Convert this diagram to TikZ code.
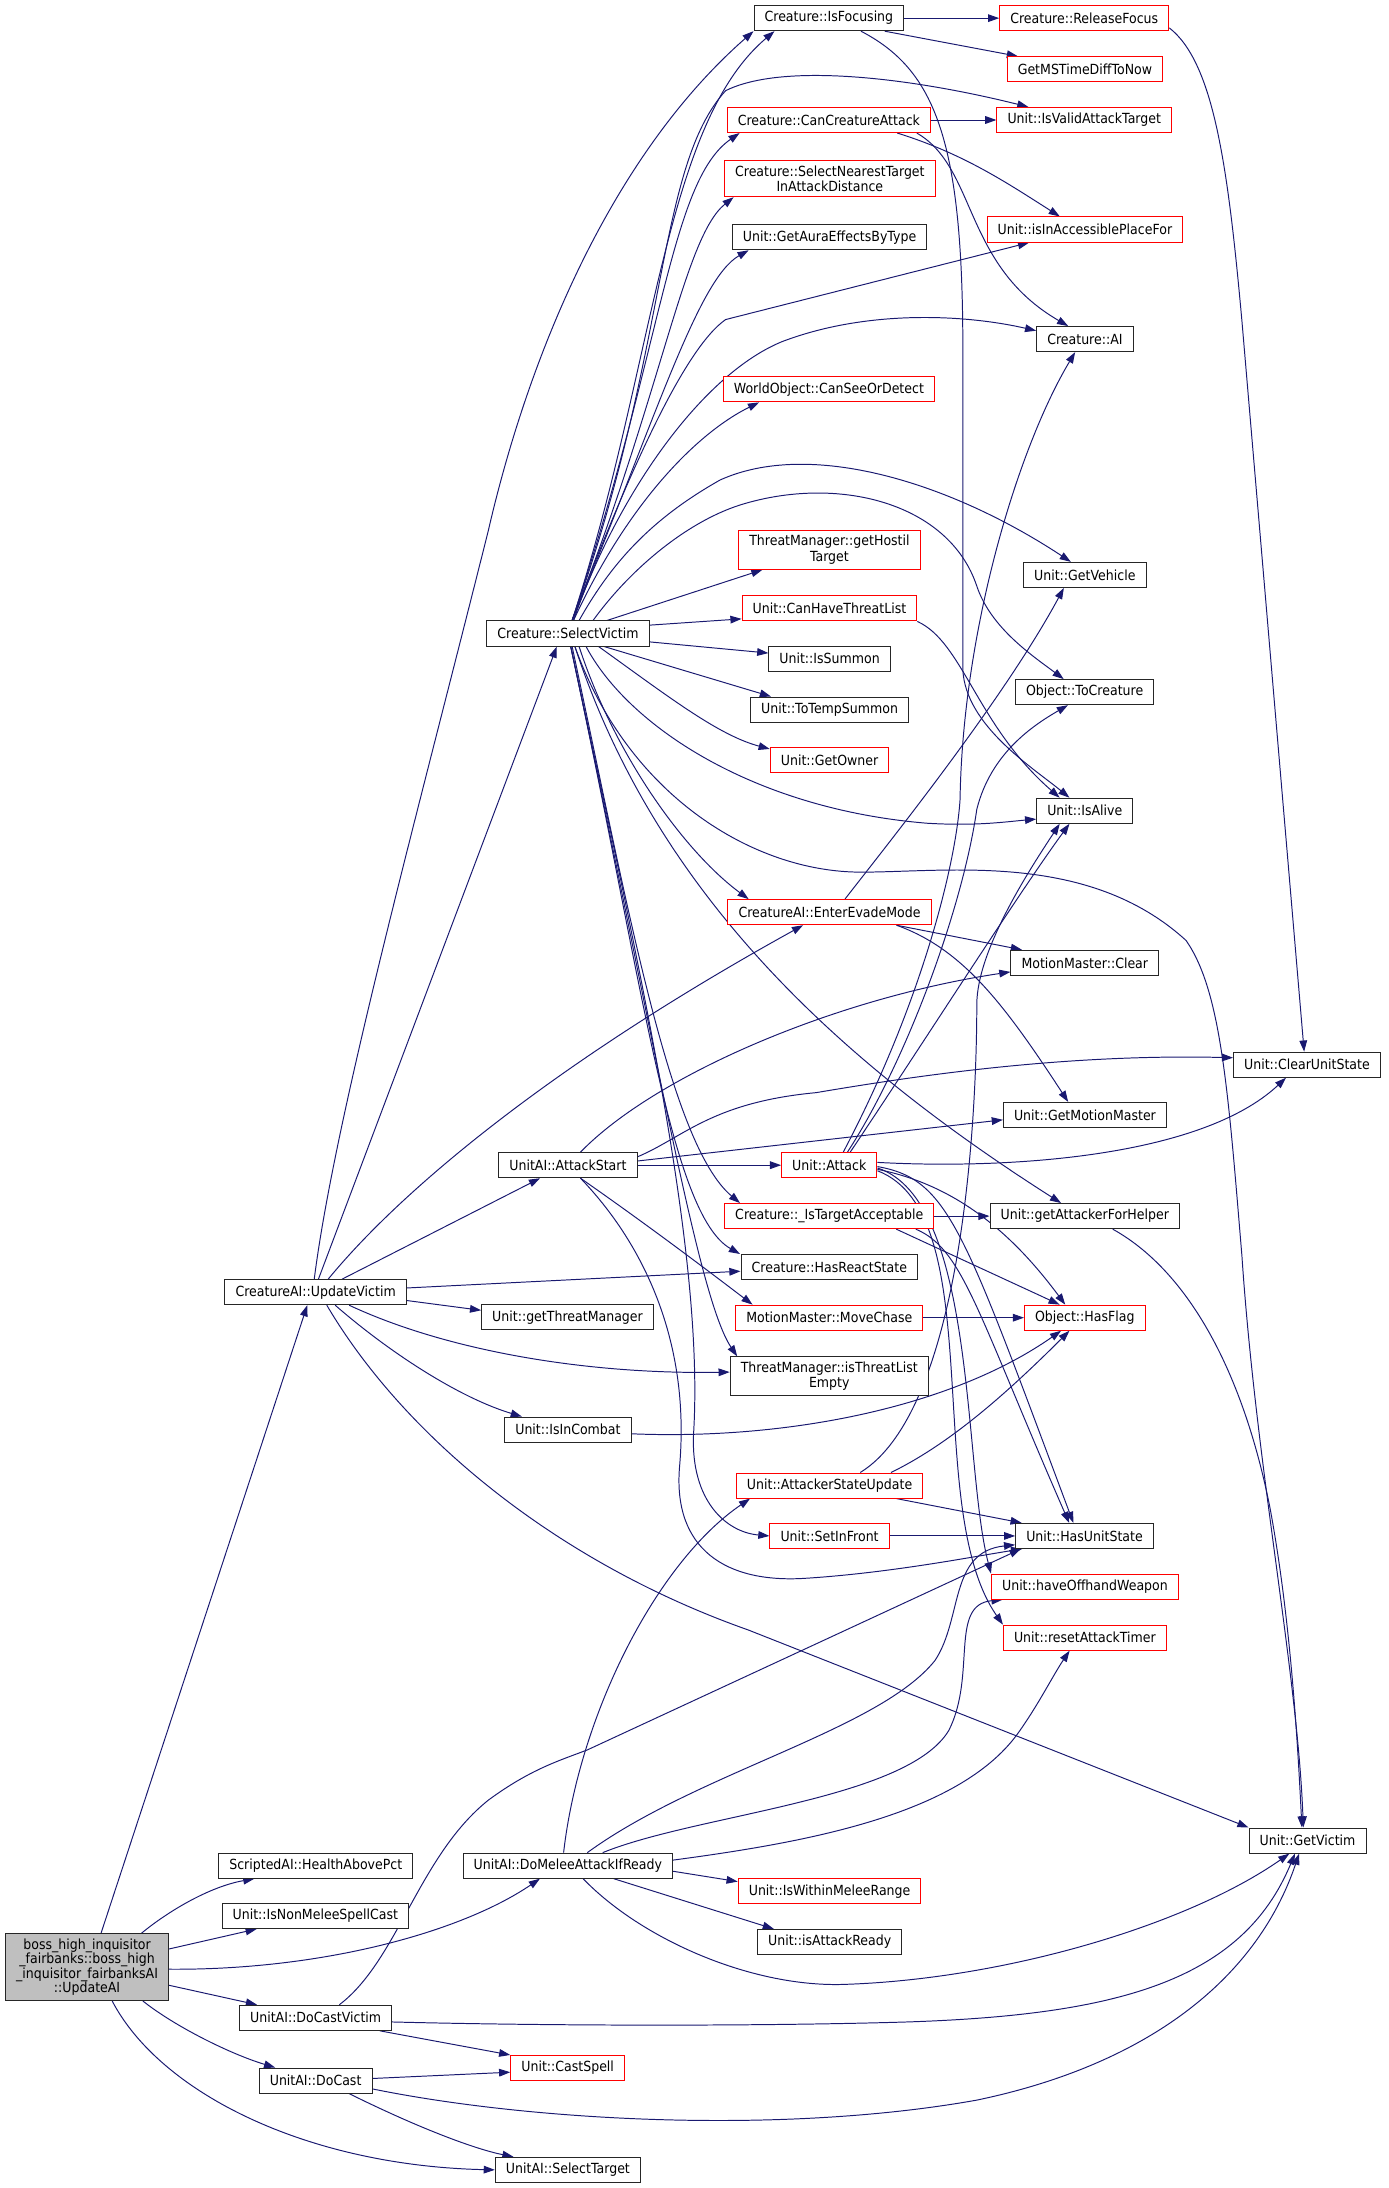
\documentclass[tikz,border=0pt]{standalone}
\usepackage{fontspec}
\newfontfamily\dotfont[FakeStretch=0.9]{DejaVu Sans}
\usetikzlibrary{arrows.meta,backgrounds}
\definecolor{edgeblue}{RGB}{25,25,112}
\definecolor{rootgray}{RGB}{191,191,191}

\begin{document}
\begin{tikzpicture}[x=1pt, y=-1pt,
    fn/.style={draw=black!85, line width=0.7pt, fill=white, font=\dotfont\fontsize{10}{11.2}\selectfont,
      inner xsep=7.6pt, inner ysep=3.5pt, minimum height=18pt, align=center},
    fnred/.style={fn, draw=red},
    fnroot/.style={fn, fill=rootgray, font=\dotfont\fontsize{10}{10.4}\selectfont},
    call/.style={draw=edgeblue, line width=0.7pt, -{Triangle[length=8pt,width=5.5pt]}}
  ]
  \useasboundingbox (0,0) rectangle (995,1568);

  % callees, column by column
  \node[fn]    (if)   at (594,13)    {Creature::IsFocusing};
  \node[fnred] (rf)   at (777,13)    {Creature::ReleaseFocus};
  \node[fnred] (gms)  at (777.5,49.7) {GetMSTimeDiffToNow};
  \node[fnred] (ivat) at (777,86)    {Unit::IsValidAttackTarget};
  \node[fnred] (cca)  at (594,86)    {Creature::CanCreatureAttack};
  \node[fnred] (snt)  at (594.7,128) {Creature::SelectNearestTarget\\InAttackDistance};
  \node[fn]    (gae)  at (594.5,170) {Unit::GetAuraEffectsByType};
  \node[fnred] (iap)  at (777.5,164.5) {Unit::isInAccessiblePlaceFor};
  \node[fn]    (cai)  at (777.5,243) {Creature::AI};
  \node[fnred] (csd)  at (594,279)   {WorldObject::CanSeeOrDetect};
  \node[fnred] (ght)  at (594.4,394) {ThreatManager::getHostil\\Target};
  \node[fn]    (gveh) at (777.4,412) {Unit::GetVehicle};
  \node[fnred] (cht)  at (594.4,436) {Unit::CanHaveThreatList};
  \node[fn]    (sv)   at (407,454)   {Creature::SelectVictim};
  \node[fn]    (iss)  at (594.5,472) {Unit::IsSummon};
  \node[fn]    (tc)   at (777.3,496) {Object::ToCreature};
  \node[fn]    (tts)  at (594.5,508.5) {Unit::ToTempSummon};
  \node[fnred] (go)   at (594.5,544.6) {Unit::GetOwner};
  \node[fn]    (ia)   at (777.4,581) {Unit::IsAlive};
  \node[fnred] (eem)  at (594.5,653.7) {CreatureAI::EnterEvadeMode};
  \node[fn]    (mmc)  at (777.4,690) {MotionMaster::Clear};
  \node[fn]    (cus)  at (936.6,763) {Unit::ClearUnitState};
  \node[fn]    (gmm)  at (777.5,799) {Unit::GetMotionMaster};
  \node[fn]    (as)   at (407,835)   {UnitAI::AttackStart};
  \node[fnred] (att)  at (594.3,835) {Unit::Attack};
  \node[fnred] (ita)  at (594.3,871.5) {Creature::\_IsTargetAcceptable};
  \node[fn]    (gah)  at (777.4,871.5) {Unit::getAttackerForHelper};
  \node[fn]    (hrs)  at (594.3,908) {Creature::HasReactState};
  \node[fn]    (uv)   at (226.2,926) {CreatureAI::UpdateVictim};
  \node[fn]    (gtm)  at (406.7,944) {Unit::getThreatManager};
  \node[fnred] (mc)   at (594.3,944.3) {MotionMaster::MoveChase};
  \node[fnred] (hf)   at (777.4,944.3) {Object::HasFlag};
  \node[fn]    (tle)  at (594.3,986.3) {ThreatManager::isThreatList\\Empty};
  \node[fn]    (iic)  at (407,1024.5) {Unit::IsInCombat};
  \node[fnred] (asu)  at (594.5,1064.6) {Unit::AttackerStateUpdate};
  \node[fnred] (sif)  at (594.5,1100.7) {Unit::SetInFront};
  \node[fn]    (hus)  at (777.2,1100.7) {Unit::HasUnitState};
  \node[fnred] (how)  at (777.5,1137) {Unit::haveOffhandWeapon};
  \node[fnred] (rat)  at (777.5,1173.6) {Unit::resetAttackTimer};
  \node[fn]    (gv)   at (937,1319)  {Unit::GetVictim};
  \node[fn]    (hap)  at (226.3,1337) {ScriptedAI::HealthAbovePct};
  \node[fn]    (dm)   at (406.9,1337) {UnitAI::DoMeleeAttackIfReady};
  \node[fnred] (iwmr) at (594.5,1355.4) {Unit::IsWithinMeleeRange};
  \node[fn]    (inm)  at (226,1373)  {Unit::IsNonMeleeSpellCast};
  \node[fn]    (iar)  at (594.6,1391.7) {Unit::isAttackReady};
  \node[fnroot] (boss) at (62.4,1409.7) {boss\_high\_inquisitor\\\_fairbanks::boss\_high\\\_inquisitor\_fairbanksAI\\::UpdateAI};
  \node[fn]    (dcv)  at (226.2,1446) {UnitAI::DoCastVictim};
  \node[fnred] (cs)   at (406.8,1482) {Unit::CastSpell};
  \node[fn]    (dc)   at (226.2,1491) {UnitAI::DoCast};
  \node[fn]    (st)   at (407,1555)  {UnitAI::SelectTarget};

  \begin{scope}[on background layer]
    % root
    \draw[call] ([xshift=10pt]boss.north) -- ([xshift=-6pt]uv.south);
    \draw[call] ([xshift=39pt]boss.north) .. controls (120,1370) and (150,1352) .. ([xshift=-44pt]hap.south);
    \draw[call] ([yshift=13pt]boss.east) -- ([xshift=-42pt]inm.south);
    \draw[call] ([yshift=-1.5pt]boss.east) .. controls (230,1412) and (330,1385) .. ([xshift=-20pt]dm.south);
    \draw[call] ([yshift=-13pt]boss.east) -- ([xshift=-42pt]dcv.north);
    \draw[call] ([xshift=40pt]boss.south) .. controls (125,1452) and (165,1472) .. ([xshift=-29pt]dc.north);
    \draw[call] ([xshift=18pt]boss.south) .. controls (115,1500) and (220,1552) .. (st.west);

    % UpdateVictim
    \draw[call] ([xshift=2pt]uv.north) -- ([xshift=-8pt]sv.south);
    \draw[call] ([xshift=-1pt]uv.north) .. controls (240,800) and (300,580) .. (350,380)
      .. controls (380,250) and (440,110) .. (if.south west);
    \draw[call] ([xshift=9pt]uv.north) .. controls (290,850) and (400,760) .. ([xshift=-19pt]eem.south);
    \draw[call] ([xshift=19pt]uv.north) -- ([xshift=-20pt]as.south);
    \draw[call] ([yshift=3pt]uv.east) -- ([yshift=-3pt]hrs.west);
    \draw[call] ([yshift=-6pt]uv.east) -- ([yshift=5pt]gtm.west);
    \draw[call] ([xshift=24pt]uv.south) .. controls (320,968) and (420,985) .. ([yshift=3pt]tle.west);
    \draw[call] ([xshift=14pt]uv.south) .. controls (280,970) and (330,1002) .. ([xshift=-33pt]iic.north);
    \draw[call] ([xshift=8pt]uv.south) .. controls (290,1030) and (400,1120) .. (536,1168) -- (gv.north west);

    % SelectVictim
    \draw[call] ([xshift=3pt]sv.north) .. controls (470,260) and (475,90) .. ([xshift=-39pt]if.south);
    \draw[call] ([xshift=3pt]sv.north) .. controls (480,250) and (470,120) .. (520,65)
      .. controls (560,45) and (650,55) .. ([xshift=-40pt]ivat.north);
    \draw[call] ([xshift=3pt]sv.north) .. controls (475,250) and (480,130) .. ([xshift=-64pt]cca.south);
    \draw[call] ([xshift=3pt]sv.north) .. controls (475,280) and (490,170) .. ([xshift=-69pt]snt.south);
    \draw[call] ([xshift=3pt]sv.north) .. controls (470,300) and (500,200) .. ([xshift=-58pt]gae.south);
    \draw[call] ([xshift=3pt]sv.north) .. controls (450,340) and (490,250) .. (520,229) -- ([xshift=-40pt]iap.south);
    \draw[call] ([xshift=4pt]sv.north) .. controls (440,360) and (500,270) .. (560,245)
      .. controls (620,222) and (690,225) .. ([yshift=6pt]cai.west);
    \draw[call] ([xshift=4pt]sv.north) .. controls (450,360) and (500,310) .. ([xshift=-50pt]csd.south);
    \draw[call] ([xshift=8pt]sv.north) .. controls (440,400) and (470,370) .. (516,344)
      .. controls (580,315) and (680,345) .. ([xshift=-10pt]gveh.north);
    \draw[call] ([xshift=18pt]sv.north) .. controls (450,410) and (490,375) .. (530,362)
      .. controls (600,340) and (680,360) .. (700,420) .. controls (710,450) and (740,470) .. ([xshift=-15pt]tc.north);
    \draw[call] ([xshift=28pt]sv.north) -- ([xshift=-48pt]ght.south);
    \draw[call] ([yshift=6pt]sv.east) -- ([yshift=-7.5pt]cht.west);
    \draw[call] ([yshift=-6pt]sv.east) -- ([yshift=4pt]iss.west);
    \draw[call] ([xshift=26pt]sv.south) -- ([xshift=-42pt]tts.north);
    \draw[call] ([xshift=22pt]sv.south) .. controls (480,500) and (515,527) .. ([yshift=-1.5pt]go.north west);
    \draw[call] ([xshift=13pt]sv.south) .. controls (450,520) and (540,580) .. (665,590)
      .. controls (700,592) and (720,589) .. ([yshift=-6pt]ia.west);
    \draw[call] ([xshift=5pt]sv.south) .. controls (450,570) and (540,625) .. (617,625)
      .. controls (680,625) and (780,610) .. (850,674) .. controls (875,710) and (880,780) .. (890,900)
      .. controls (900,1050) and (930,1200) .. ([xshift=-3pt]gv.north);
    \draw[call] ([xshift=8pt]sv.south) .. controls (440,540) and (490,610) .. ([xshift=-58pt]eem.north);
    \draw[call] ([xshift=5pt]sv.south) .. controls (470,640) and (600,760) .. ([xshift=-17pt]gah.north);
    \draw[call] ([xshift=3pt]sv.south) .. controls (450,650) and (480,820) .. ([xshift=-64pt]ita.north);
    \draw[call] ([xshift=2pt]sv.south) .. controls (460,700) and (480,870) .. ([xshift=-64pt]hrs.north);
    \draw[call] ([xshift=2pt]sv.south) .. controls (470,750) and (500,930) .. ([xshift=-66pt]tle.north);
    \draw[call] ([xshift=2pt]sv.south) .. controls (460,700) and (505,900) .. (497,1028)
      .. controls (495,1075) and (520,1098) .. (sif.west);

    % AttackStart
    \draw[call] (as.east) -- (att.west);
    \draw[call] ([xshift=9pt]as.north) .. controls (470,770) and (600,715) .. ([yshift=-6.5pt]mmc.west);
    \draw[call] ([yshift=6pt]as.east) .. controls (490,815) and (510,790) .. (585,783)
      .. controls (650,772) and (760,755) .. ([yshift=5pt]cus.west);
    \draw[call] ([yshift=3pt]as.east) -- ([yshift=-3.5pt]gmm.west);
    \draw[call] ([xshift=9pt]as.south) .. controls (460,875) and (500,905) .. ([xshift=-55pt]mc.north);
    \draw[call] ([xshift=9pt]as.south) .. controls (460,890) and (495,960) .. (487,1051)
      .. controls (482,1110) and (520,1135) .. (578,1131) .. controls (640,1127) and (700,1115) .. ([xshift=5pt]hus.south west);

    % EnterEvadeMode
    \draw[call] ([xshift=11pt]eem.north) .. controls (640,600) and (720,500) .. ([xshift=-15pt]gveh.south);
    \draw[call] ([xshift=48pt]eem.south) -- ([xshift=-45pt]mmc.north);
    \draw[call] ([xshift=48pt]eem.south) .. controls (690,680) and (720,720) .. ([xshift=-12pt]gmm.north);

    % _IsTargetAcceptable, MoveChase
    \draw[call] (ita.east) -- (gah.west);
    \draw[call] ([xshift=48pt]ita.south) -- ([xshift=-18pt]hf.north);
    \draw[call] ([xshift=62pt]ita.south) .. controls (690,895) and (700,940) .. ([xshift=-11pt]hus.north);
    \draw[call] (mc.east) -- (hf.west);

    % Attack
    \draw[call] ([xshift=10pt]att.north) .. controls (660,720) and (685,620) .. (688,573)
      .. controls (690,450) and (730,320) .. ([xshift=-7pt]cai.south);
    \draw[call] ([xshift=13pt]att.north) .. controls (650,760) and (690,650) .. (700,580)
      .. controls (710,540) and (740,520) .. ([xshift=-12pt]tc.south);
    \draw[call] ([xshift=15pt]att.north) .. controls (660,750) and (730,640) .. ([xshift=-11pt]ia.south);
    \draw[call] ([yshift=2pt]att.east) .. controls (720,838) and (860,830) .. ([xshift=-15pt]cus.south);
    \draw[call] ([yshift=-1pt]att.east) .. controls (680,845) and (690,880) .. ([xshift=-8pt]hus.north);
    \draw[call] ([yshift=-3pt]att.east) .. controls (690,850) and (730,890) .. ([xshift=-14pt]hf.north);
    \draw[call] ([yshift=-2pt]att.east) .. controls (700,860) and (690,1050) .. (how.north west);
    \draw[call] ([yshift=-4pt]att.east) .. controls (710,870) and (660,1080) .. (rat.north west);

    % AttackerStateUpdate, SetInFront, IsInCombat
    \draw[call] ([xshift=22pt]asu.north) .. controls (690,1010) and (700,800) .. (700,720)
      .. controls (700,680) and (740,620) .. ([xshift=-18pt]ia.south);
    \draw[call] ([xshift=44pt]asu.north) .. controls (680,1035) and (720,1000) .. ([xshift=-11pt]hf.south);
    \draw[call] ([xshift=48pt]asu.south) -- ([xshift=-45pt]hus.north);
    \draw[call] (sif.east) -- (hus.west);
    \draw[call] ([yshift=-3pt]iic.east) .. controls (560,1032) and (680,1010) .. ([xshift=-17pt]hf.south);

    % DoMeleeAttackIfReady
    \draw[call] ([xshift=-3pt]dm.north) .. controls (415,1230) and (470,1120) .. ([xshift=-57pt]asu.south);
    \draw[call] ([xshift=14pt]dm.north) .. controls (500,1270) and (630,1240) .. (670,1190)
      .. controls (690,1160) and (680,1112) .. ([yshift=3pt]hus.south west);
    \draw[call] ([xshift=25pt]dm.north) .. controls (500,1300) and (650,1290) .. (680,1240)
      .. controls (700,1200) and (680,1150) .. ([xshift=-59pt]how.south);
    \draw[call] ([yshift=4pt]dm.east) .. controls (580,1320) and (690,1300) .. (731,1240)
      .. controls (745,1220) and (755,1200) .. ([xshift=-11pt]rat.south);
    \draw[call] ([yshift=-4pt]dm.east) -- ([yshift=7pt]iwmr.west);
    \draw[call] ([xshift=33pt]dm.south) -- ([xshift=-40pt]iar.north);
    \draw[call] ([xshift=11pt]dm.south) .. controls (460,1390) and (540,1425) .. (607,1422)
      .. controls (720,1418) and (850,1380) .. ([xshift=-13pt]gv.south);

    % DoCastVictim, DoCast
    \draw[call] ([xshift=17pt]dcv.north) .. controls (285,1405) and (300,1330) .. (350,1290)
      .. controls (380,1268) and (400,1262) .. (421,1254) -- ([xshift=4pt]hus.south west);
    \draw[call] ([xshift=46pt]dcv.south) -- (cs.north west);
    \draw[call] ([yshift=-3pt]dcv.east) .. controls (400,1452) and (550,1452) .. (650,1449)
      .. controls (800,1444) and (890,1420) .. ([xshift=-9pt]gv.south);
    \draw[call] ([yshift=1.5pt]dc.east) -- ([yshift=-3pt]cs.west);
    \draw[call] ([xshift=24pt]dc.south) .. controls (300,1525) and (340,1540) .. ([xshift=-39pt]st.north);
    \draw[call] ([yshift=-6pt]dc.east) .. controls (380,1520) and (560,1530) .. (700,1505)
      .. controls (820,1480) and (900,1420) .. ([xshift=-6pt]gv.south);

    % the rest
    \draw[call] ([xshift=20pt]gah.south) .. controls (850,910) and (890,980) .. (910,1080)
      .. controls (925,1160) and (930,1250) .. ([xshift=-4pt]gv.north);
    \draw[call] ([yshift=-7pt]rf.east) .. controls (870,45) and (880,120) .. (890,230) -- ([xshift=-2pt]cus.north);
    \draw[call] (if.east) -- (rf.west);
    \draw[call] ([xshift=40pt]if.south) -- ([xshift=-48pt]gms.north);
    \draw[call] (cca.east) -- (ivat.west);
    \draw[call] ([xshift=49pt]cca.south) .. controls (690,110) and (720,130) .. ([xshift=-18pt]iap.north);
    \draw[call] ([xshift=63pt]cca.south) .. controls (700,120) and (690,190) .. ([xshift=-12pt]cai.north);
    \draw[call] (cht.south east) .. controls (690,460) and (700,520) .. ([xshift=-18pt]ia.north);
    \draw[call] ([xshift=23pt]if.south) .. controls (670,50) and (690,100) .. (690,250) -- (690,480)
      .. controls (692,520) and (740,550) .. ([xshift=-11pt]ia.north);
  \end{scope}
\end{tikzpicture}
\end{document}
